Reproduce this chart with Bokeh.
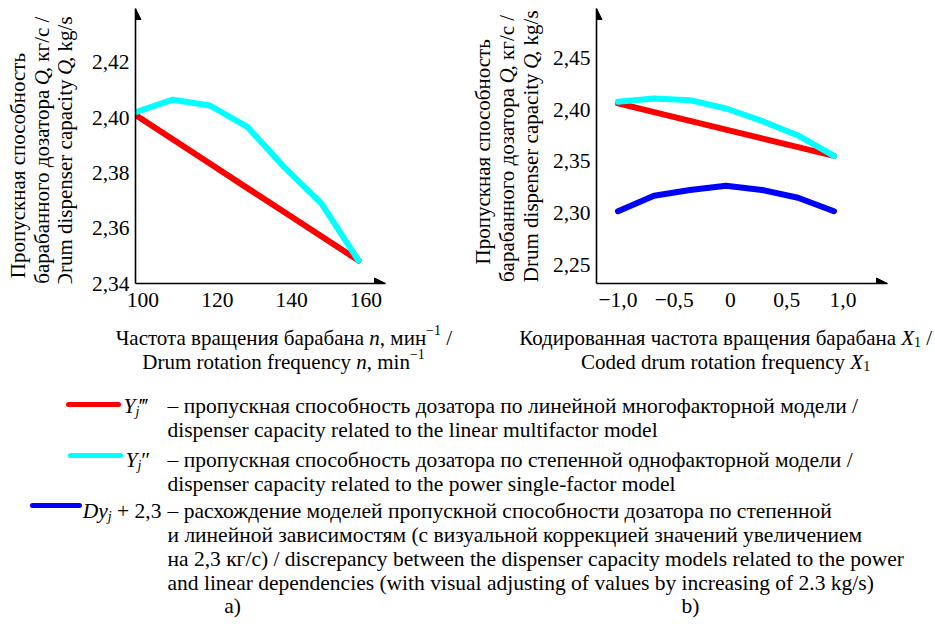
import math
from bokeh.plotting import figure
from bokeh.layouts import column, row
from bokeh.models import Range1d, FixedTicker, Label, Arrow, NormalHead
from bokeh.embed import file_html
from bokeh.resources import INLINE

# ---------------- data ----------------
n_rpm = [98, 108, 118, 128, 138, 148, 158]
q_linear_a = [2.401, 2.3922, 2.3834, 2.3746, 2.3659, 2.3571, 2.3483]
q_power_a = [2.402, 2.4065, 2.4044, 2.3968, 2.3821, 2.3690, 2.3483]

x_coded = [-1.0, -0.68, -0.36, -0.04, 0.28, 0.60, 0.92]
q_linear_b = [2.406, 2.3975, 2.389, 2.3806, 2.3722, 2.3637, 2.3553]
q_power_b = [2.4074, 2.4107, 2.409, 2.401, 2.389, 2.3750, 2.3553]
q_diff_b = [2.302, 2.317, 2.3225, 2.3265, 2.3225, 2.3150, 2.302]

left_x_ticks = [100, 120, 140, 160]
left_y_ticks = [2.34, 2.36, 2.38, 2.40, 2.42]
left_y_tick_labels = ["2,34", "2,36", "2,38", "2,40", "2,42"]
right_x_ticks = [-1.0, -0.5, 0, 0.5, 1.0]
right_x_tick_labels = ["\u22121,0", "\u22120,5", "0", "0,5", "1,0"]
right_y_ticks = [2.25, 2.30, 2.35, 2.40, 2.45]
right_y_tick_labels = ["2,25", "2,30", "2,35", "2,40", "2,45"]

RED, CYAN, BLUE = "#ff0000", "#00ffff", "#0000ff"
FONT = "'Liberation Serif', 'Times New Roman', 'DejaVu Serif', serif"
TOP_H = 320
AX = 21      # axis-title font size
LG = 21.5    # legend font size

# ---------------- approximate text widths (em) ----------------
CW = {}
for ch, w in zip("abcdefghijklmnopqrstuvwxyz",
                 [.444, .5, .444, .5, .444, .333, .5, .5, .278, .278, .5, .278, .778,
                  .5, .5, .5, .5, .333, .389, .278, .5, .5, .722, .5, .5, .444]):
    CW[ch] = w
for ch, w in zip("абвгдежзийклмнопрстуфхцчшщъыьэюя",
                 [.444, .5, .472, .41, .5, .444, .69, .395, .535, .535, .48, .5, .63, .535,
                  .5, .535, .5, .444, .437, .5, .648, .5, .535, .5, .77, .77, .5, .69, .47,
                  .44, .72, .48]):
    CW[ch] = w
CW.update({" ": .25, ",": .25, ".": .25, "/": .278, "(": .333, ")": .333, "+": .564,
           "\u2013": .5, "\u2212": .564, "-": .333, "D": .722, "C": .667, "Q": .722,
           "X": .611, "Y": .556, "П": .722, "Ч": .667, "К": .667, "\u2034": .6, "\u2033": .45})
for d in "0123456789":
    CW[d] = .5


def tw(s, size):
    return sum(CW.get(ch, .5) for ch in s) * size


def label(p, x, y, text, size, italic=False, align="left", baseline="alphabetic", angle=0.0):
    p.add_layout(Label(x=x, y=y, text=text, text_font=FONT, text_font_size=f"{size}px",
                       text_font_style="italic" if italic else "normal", text_color="black",
                       text_align=align, text_baseline=baseline, angle=angle))


def place_runs(p, runs, x, y, align="center", angle=0.0, base=AX):
    """runs: (text, italic, size, shift_px); x, y are page pixels (the helper
    text panels use page-pixel ranges)."""
    widths = [tw(r[0], r[2]) for r in runs]
    total = sum(widths)
    pos = (-total / 2) if align == "center" else 0.0
    for i, (txt, ital, size, shift) in enumerate(runs):
        lead = len(txt) - len(txt.lstrip(" "))
        trail = len(txt) - len(txt.rstrip(" "))
        if i == 0:
            anchor, ta = pos + widths[0] - trail * CW[" "] * size, "right"
        else:
            anchor, ta = pos + lead * CW[" "] * size, "left"
        if angle == 0:
            label(p, x + anchor, y + 0.32 * base + shift, txt.strip(" "), size, ital, ta,
                  "alphabetic", 0.0)
        else:
            label(p, x + shift, y - anchor, txt.strip(" "), size, ital, ta, "middle", angle)
        pos += widths[i]


def text_panel(width, height, x0, y0):
    p = figure(width=width, height=height, x_range=Range1d(x0, x0 + width),
               y_range=Range1d(y0 + height, y0), output_backend="svg", toolbar_location=None,
               x_axis_location=None, y_axis_location=None, min_border=0)
    p.xgrid.visible = False
    p.ygrid.visible = False
    p.outline_line_color = None
    return p


def make_fig(width, xr, yr, bl, br, bt, bb):
    p = figure(width=width, height=TOP_H, x_range=Range1d(*xr), y_range=Range1d(*yr),
               output_backend="svg", toolbar_location=None,
               min_border_left=bl, min_border_right=br, min_border_top=bt, min_border_bottom=bb)
    p.xgrid.visible = False
    p.ygrid.visible = False
    p.outline_line_color = None
    for ax in (p.xaxis[0], p.yaxis[0]):
        ax.axis_line_width = 1.6
        ax.axis_line_color = "black"
        ax.major_tick_line_color = None
        ax.minor_tick_line_color = None
        ax.major_tick_out = 0
        ax.major_tick_in = 0
        ax.minor_tick_out = 0
        ax.major_label_text_font = FONT
        ax.major_label_text_font_size = "21.5px"
        ax.major_label_text_color = "black"
    p.xaxis[0].major_label_standoff = 9
    p.yaxis[0].major_label_standoff = 6
    return p


def add_arrows(p, xr, yr):
    p.add_layout(Arrow(end=NormalHead(size=11, fill_color="black", line_color="black"),
                       x_start=xr[0], y_start=yr[1] - (yr[1] - yr[0]) * 0.1,
                       x_end=xr[0], y_end=yr[1], line_alpha=0))
    p.add_layout(Arrow(end=NormalHead(size=11, fill_color="black", line_color="black"),
                       x_start=xr[1] - (xr[1] - xr[0]) * 0.1, y_start=yr[0],
                       x_end=xr[1], y_end=yr[0], line_alpha=0))


# ---------------- left chart (a) ----------------
YL_W = 80
L_fl, L_fr, L_ft, L_fb = 135, 385, 8, 283
L_xr = (98, 98 + (L_fr - L_fl) / 3.717)
L_yr = (2.34, 2.4395)
pL = make_fig(467 - YL_W, L_xr, L_yr, L_fl - YL_W, 467 - L_fr, L_ft, TOP_H - L_fb)
pL.xaxis[0].ticker = FixedTicker(ticks=left_x_ticks)
pL.yaxis[0].ticker = FixedTicker(ticks=left_y_ticks)
pL.yaxis[0].major_label_overrides = dict(zip(left_y_ticks, left_y_tick_labels))
pL.line(n_rpm, q_linear_a, line_color=RED, line_width=6, line_cap="round", line_join="round")
pL.line(n_rpm, q_power_a, line_color=CYAN, line_width=6, line_cap="round", line_join="round")
add_arrows(pL, L_xr, L_yr)

yL = text_panel(YL_W, TOP_H, 0, 0)
place_runs(yL, [("Пропускная способность", False, AX, 0)], 17, 164, angle=math.pi / 2)
place_runs(yL, [("барабанного дозатора ", False, AX, 0), ("Q", True, AX, 0),
                (", кг/с /", False, AX, 0)], 41, 154, angle=math.pi / 2)
place_runs(yL, [("Drum dispenser capacity ", False, AX, 0), ("Q", True, AX, 0),
                (", kg/s", False, AX, 0)], 64, 154, angle=math.pi / 2)

# ---------------- right chart (b) ----------------
YR_X0, YR_W = 467, 78
R_fl, R_fr, R_ft, R_fb = 596, 887, 8, 284
R_xr = (-1.191, 1.3956)
R_yr = (2.2324, 2.4973)
pR = make_fig(935 - YR_X0 - YR_W, R_xr, R_yr, R_fl - YR_X0 - YR_W, 935 - R_fr, R_ft, TOP_H - R_fb)
pR.xaxis[0].ticker = FixedTicker(ticks=right_x_ticks)
pR.xaxis[0].major_label_overrides = dict(zip(right_x_ticks, right_x_tick_labels))
pR.yaxis[0].ticker = FixedTicker(ticks=right_y_ticks)
pR.yaxis[0].major_label_overrides = dict(zip(right_y_ticks, right_y_tick_labels))
pR.line(x_coded, q_linear_b, line_color=RED, line_width=6, line_cap="round", line_join="round")
pR.line(x_coded, q_power_b, line_color=CYAN, line_width=6, line_cap="round", line_join="round")
pR.line(x_coded, q_diff_b, line_color=BLUE, line_width=6, line_cap="round", line_join="round")
add_arrows(pR, R_xr, R_yr)

yR = text_panel(YR_W, TOP_H, YR_X0, 0)
place_runs(yR, [("Пропускная способность", False, AX, 0)], 482, 148, angle=math.pi / 2)
place_runs(yR, [("барабанного дозатора ", False, AX, 0), ("Q", True, AX, 0),
                (", кг/с /", False, AX, 0)], 506, 152, angle=math.pi / 2)
place_runs(yR, [("Drum dispenser capacity ", False, AX, 0), ("Q", True, AX, 0),
                (", kg/s", False, AX, 0)], 530, 147, angle=math.pi / 2)

# ---------------- lower block: axis titles, legend, captions ----------------
pG = text_panel(935, 624 - TOP_H, 0, TOP_H)

place_runs(pG, [("Частота вращения барабана ", False, AX, 0), ("n", True, AX, 0),
                (", мин", False, AX, 0), ("\u22121", False, 14, -8), (" /", False, AX, 0)],
           283, 331)
place_runs(pG, [("Drum rotation frequency ", False, AX, 0), ("n", True, AX, 0),
                (", min", False, AX, 0), ("\u22121", False, 14, -8)], 283, 355)
place_runs(pG, [("Кодированная частота вращения барабана ", False, AX, 0), ("X", True, AX, 0),
                ("1", False, 14, 4), (" /", False, AX, 0)], 724, 331)
place_runs(pG, [("Coded drum rotation frequency ", False, AX, 0), ("X", True, AX, 0),
                ("1", False, 14, 4)], 725, 355)

pG.line([68, 118], [404, 404], line_color=RED, line_width=5, line_cap="round")
pG.line([70, 120], [455, 455], line_color=CYAN, line_width=5, line_cap="round")
pG.line([32, 79], [505, 505], line_color=BLUE, line_width=5, line_cap="round")

place_runs(pG, [("Y", True, LG, 0), ("j", True, 14, 5), ("\u2034", False, LG, 0)],
           123, 399, align="left", base=LG)
place_runs(pG, [("Y", True, LG, 0), ("j", True, 14, 5), ("\u2033", False, LG, 0)],
           125, 453, align="left", base=LG)
place_runs(pG, [("Dy", True, LG, 0), ("j", True, 14, 5), (" + 2,3", False, LG, 0)],
           81, 504, align="left", base=LG)

TX = 167
legend_lines = [
    (399, "\u2013 пропускная способность дозатора по линейной многофакторной модели /"),
    (423, "dispenser capacity related to the linear multifactor model"),
    (453, "\u2013 пропускная способность дозатора по степенной однофакторной модели /"),
    (477, "dispenser capacity related to the power single-factor model"),
    (504, "\u2013 расхождение моделей пропускной способности дозатора по степенной"),
    (528, "и линейной зависимостям (с визуальной коррекцией значений увеличением"),
    (552, "на 2,3 кг/с) / discrepancy between the dispenser capacity models related to the power"),
    (576, "and linear dependencies (with visual adjusting of values by increasing of 2.3 kg/s)"),
]
for yy, txt in legend_lines:
    label(pG, TX, yy + 0.32 * LG, txt, LG)

label(pG, 232, 605, "a)", LG, align="center", baseline="middle")
label(pG, 690, 605, "b)", LG, align="center", baseline="middle")

layout = column(row(yL, pL, yR, pR), pG)
open("out.html", "w").write(file_html(layout, INLINE))
